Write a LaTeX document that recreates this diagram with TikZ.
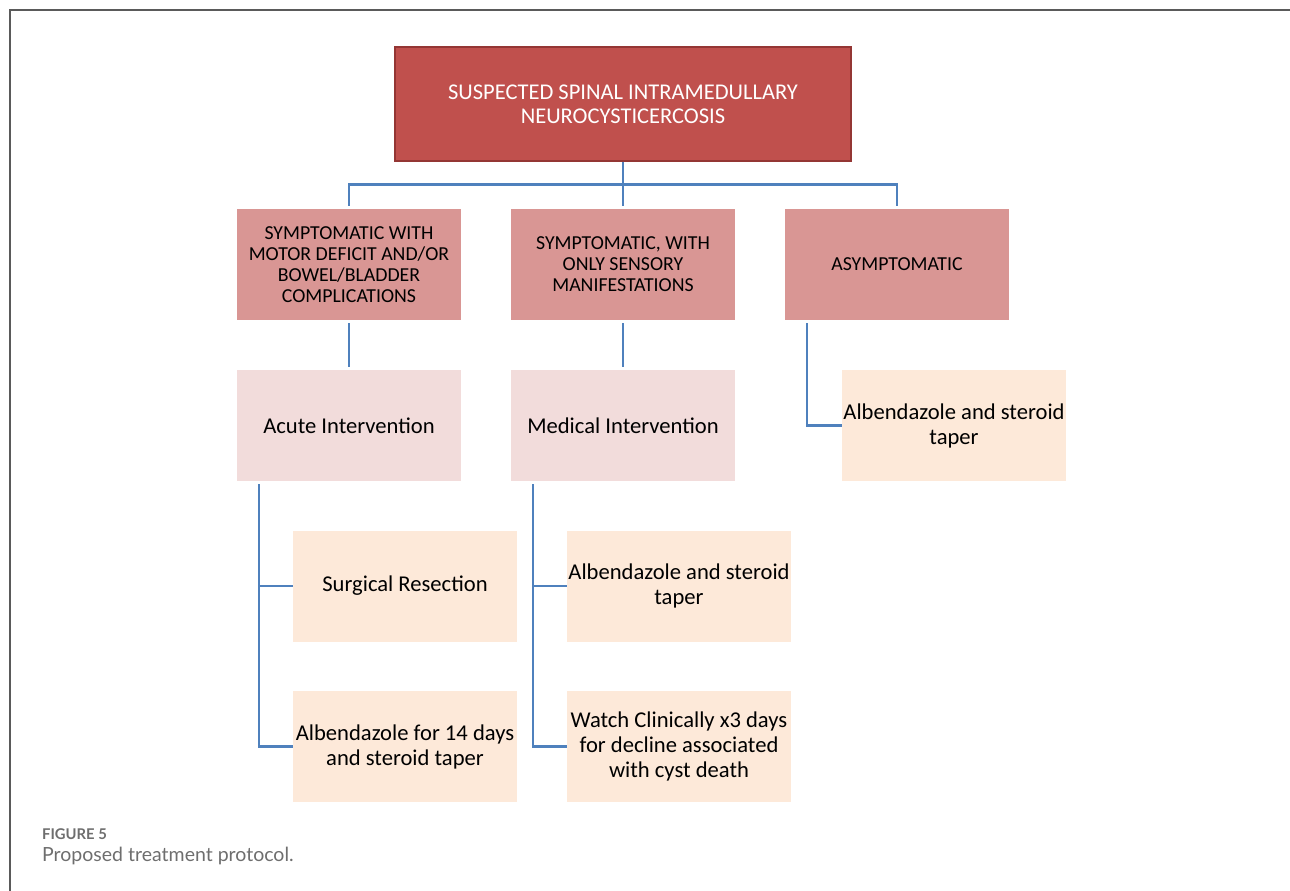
\documentclass[tikz,border=0pt]{standalone}
\usepackage{fontspec}
\setmainfont{Carlito}
\newfontfamily\capfont{Lato}
\usetikzlibrary{positioning}

\definecolor{headred}{HTML}{C0504D}
\definecolor{headline}{HTML}{943634}
\definecolor{grouprose}{HTML}{D99694}
\definecolor{steppink}{HTML}{F2DCDB}
\definecolor{treatpeach}{HTML}{FDE9D9}
\definecolor{linkblue}{HTML}{4F81BD}
\definecolor{framegray}{HTML}{5A5A5A}
\definecolor{capgray}{HTML}{6E6E6E}

\begin{document}
\begin{tikzpicture}[
    x=1pt, y=-1pt,
    box/.style={minimum width=224pt, minimum height=111pt, align=center, inner sep=0pt},
    head/.style={box, fill=headred, draw=headline, line width=1.2pt, minimum width=456pt, minimum height=114pt, text=white, font=\fontsize{22.5}{24}\selectfont},
    group/.style={box, fill=grouprose, font=\fontsize{19.8}{21}\selectfont},
    stage/.style={box, fill=steppink, font=\fontsize{22.6}{25}\selectfont},
    treat/.style={box, fill=treatpeach, font=\fontsize{22.6}{25}\selectfont},
    link/.style={draw=linkblue, line width=2.4pt}
]
    \useasboundingbox (0,0) rectangle (1290,891);
    % Frame
    \draw[framegray, line width=1.5pt] (10,891) -- (10,10) -- (1290,10);

    % Top
    \node[head] (suspect) at (623,104) {SUSPECTED SPINAL INTRAMEDULLARY\\NEUROCYSTICERCOSIS};

    % Presentation groups
    \node[group] (motor) at (349,264.5) {SYMPTOMATIC WITH\\MOTOR DEFICIT AND/OR\\BOWEL/BLADDER\\COMPLICATIONS};
    \node[group] (sensory) at (623,264.5) {SYMPTOMATIC, WITH\\ONLY SENSORY\\MANIFESTATIONS};
    \node[group] (asympt) at (897,264.5) {ASYMPTOMATIC};

    % Interventions
    \node[stage] (acute) at (349,425.5) {Acute Intervention};
    \node[stage] (medical) at (623,425.5) {Medical Intervention};
    \node[treat] (albasym) at (954,425.5) {Albendazole and steroid\\taper};

    % Treatments
    \node[treat] (resect) at (405,586) {Surgical Resection};
    \node[treat] (albacute) at (405,746.5) {Albendazole for 14 days\\and steroid taper};
    \node[treat] (albmed) at (679,586) {Albendazole and steroid\\taper};
    \node[treat] (watch) at (679,746.5) {Watch Clinically x3 days\\for decline associated\\with cyst death};

    % Connectors
    \draw[link] (suspect.south) -- ++(0,23) coordinate (bus);
    \draw[link, shorten >=3pt] (bus) -| (motor.north);
    \draw[link, shorten >=3pt] (bus) -- (sensory.north);
    \draw[link, shorten >=3pt] (bus) -| (asympt.north);

    \draw[link, shorten <=3pt, shorten >=3pt] (motor.south) -- (acute.north);
    \draw[link, shorten <=3pt, shorten >=3pt] (sensory.south) -- (medical.north);
    \draw[link, shorten <=3pt] ([xshift=-90pt]asympt.south) |- (albasym.west);

    \draw[link, shorten <=3pt] ([xshift=22pt]acute.south west) |- (resect.west);
    \draw[link, shorten <=3pt] ([xshift=22pt]acute.south west) |- (albacute.west);
    \draw[link, shorten <=3pt] ([xshift=22pt]medical.south west) |- (albmed.west);
    \draw[link, shorten <=3pt] ([xshift=22pt]medical.south west) |- (watch.west);

    % Caption
    \node[anchor=base west, inner sep=0pt, text=capgray, font=\capfont\bfseries\fontsize{14.8}{16}\selectfont] (fignum) at (42,839) {FIGURE 5};
    \node[anchor=base west, inner sep=0pt, text=capgray, font=\capfont\fontsize{19.5}{22}\selectfont] (figcap) at (42,861) {Proposed treatment protocol.};
\end{tikzpicture}
\end{document}
